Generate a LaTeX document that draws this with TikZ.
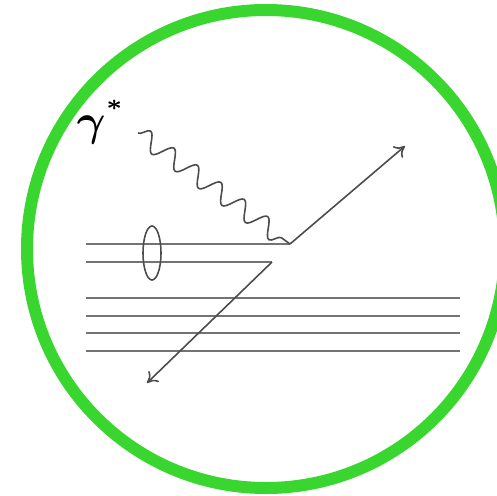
\documentclass[tikz,border=0pt]{standalone}
\usepackage{amsmath,amssymb,bm}
\usepackage{tikz}
\usetikzlibrary{arrows.meta,positioning,calc,decorations.pathmorphing}
\usepackage{xcolor}
\definecolor{ringgreen}{RGB}{57,214,48}

\begin{document}
\begin{tikzpicture}[
    x=1pt, y=-1pt,
    quark/.style={draw=black!55, line width=2.8pt},
    parton/.style={draw=black!70, line width=1.6pt, -{To[length=10pt,width=15pt]}},
    photon/.style={draw=black!70, line width=1.6pt, decorate,
        decoration={snake, segment length=29pt, amplitude=9pt}},
    label/.style={scale=4.4}
]
\useasboundingbox (0,0) rectangle (497,495);
\clip (0,0) rectangle (497,495);

% Ring
\draw[ringgreen, line width=12pt] (266,249) circle (239pt);

% Hadron lines
\coordinate (q1l) at (86,244);
\coordinate (v1) at (290,244);
\coordinate (q2l) at (86,262);
\coordinate (v2) at (272,262);
\draw[quark] (q1l) -- (v1);
\draw[quark] (q2l) -- (v2);
\draw[draw=black!70, line width=1.6pt] (152,253) ellipse (9pt and 27pt);

% Remnant lines
\foreach \y [count=\i] in {298,316,333,351} {
    \coordinate (r\i l) at (86,\y);
    \coordinate (r\i r) at (460,\y);
    \draw[quark] (r\i l) -- (r\i r);
}

% Photon and outgoing partons
\coordinate (ph) at (138,133);
\coordinate (out1) at (405,146);
\coordinate (out2) at (147,383);
\draw[photon] (ph) -- (v1);
\draw[parton] (v1) -- (out1);
\draw[parton] (v2) -- (out2);

% Label
\node[label] (gam) at (101,122) {$\bm{\gamma}^{\raisebox{2pt}{$\scriptscriptstyle\bm{*}$}}$};
\end{tikzpicture}
\end{document}
